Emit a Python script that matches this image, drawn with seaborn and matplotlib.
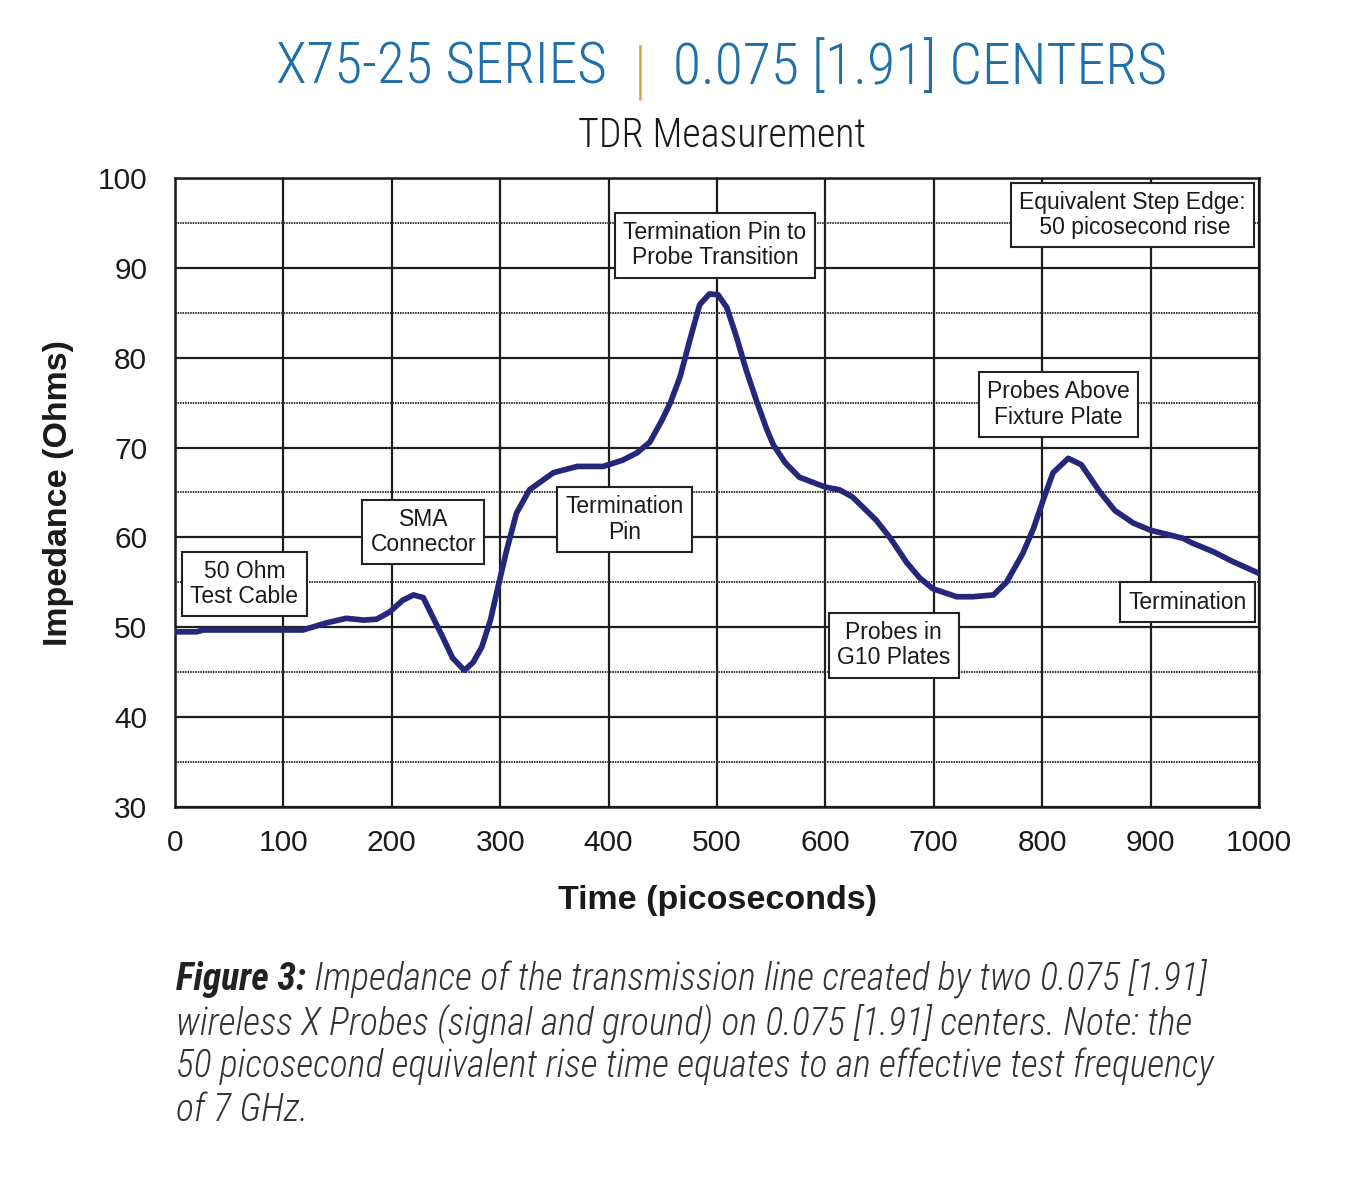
import numpy as np
import pandas as pd
import matplotlib
matplotlib.use("Agg")
import matplotlib.pyplot as plt
from matplotlib import font_manager
import seaborn as sns

# ---------------- data ----------------
time_ps = [0, 20, 26, 118, 140, 158, 174, 186, 198, 210, 220, 229, 238, 247, 256,
           267, 275, 283, 291, 298, 306, 315, 327, 349, 371, 395, 413, 426, 438,
           449, 457, 466, 475, 484, 493, 501, 509, 518, 527, 537, 546, 552, 563,
           576, 600, 613, 625, 647, 660, 675, 687, 699, 721, 736, 755, 767, 782,
           792, 801, 810, 824, 836, 853, 867, 884, 900, 930, 938, 958, 976, 989, 1000]
impedance = [49.5, 49.5, 49.7, 49.7, 50.5, 51.0, 50.8, 50.9, 51.7, 53.0, 53.6, 53.3, 51.1, 48.9, 46.6,
             45.2, 46.1, 47.8, 50.8, 54.5, 58.6, 62.7, 65.3, 67.2, 67.9, 67.9, 68.6, 69.4, 70.6,
             73.0, 75.0, 77.9, 82.0, 85.9, 87.1, 87.0, 85.6, 82.3, 78.6, 75.0, 72.0, 70.3, 68.3,
             66.7, 65.6, 65.3, 64.5, 61.9, 59.9, 57.2, 55.5, 54.3, 53.4, 53.4, 53.6, 55.0, 58.2,
             61.0, 64.2, 67.2, 68.8, 68.1, 65.1, 63.0, 61.6, 60.8, 59.9, 59.4, 58.4, 57.3, 56.6, 56.0]

x_ticks = [0, 100, 200, 300, 400, 500, 600, 700, 800, 900, 1000]
y_ticks = [30, 40, 50, 60, 70, 80, 90, 100]

note_texts = ["50 Ohm\nTest Cable", "SMA\nConnector", "Termination\nPin",
              "Termination Pin to\nProbe Transition", "Equivalent Step Edge:\n 50 picosecond rise",
              "Probes Above\nFixture Plate", "Probes in\nG10 Plates", "Termination"]
note_x = [64, 229, 415, 498, 883, 815, 663, 934]
note_y = [54.8, 60.6, 62.0, 92.5, 95.9, 74.8, 48.0, 52.8]

title_left = "X75-25 SERIES"
title_right = "0.075 [1.91] CENTERS"
subtitle = "TDR Measurement"
caption_bold = "Figure 3:"
caption_lines = [" Impedance of the transmission line created by two 0.075 [1.91]",
                 "wireless X Probes (signal and ground) on 0.075 [1.91] centers. Note: the",
                 "50 picosecond equivalent rise time equates to an effective test frequency",
                 "of 7 GHz."]

# ---------------- style ----------------
sns.set_theme(style="white")

def has_font(name):
    try:
        font_manager.findfont(name, fallback_to_default=False)
        return True
    except Exception:
        return False

SANS = "Liberation Sans" if has_font("Liberation Sans") else "DejaVu Sans"
NARROW = SANS
for cand in ["Liberation Sans Narrow", "DejaVu Sans Condensed", "Roboto Condensed",
             "Open Sans Condensed", "Noto Sans Condensed"]:
    if has_font(cand):
        NARROW = cand
        break
plt.rcParams["font.family"] = [SANS, "DejaVu Sans"]

W, H = 1348, 1179
fig = plt.figure(figsize=(W / 100, H / 100), dpi=100)
fig.patch.set_facecolor("white")
ax = fig.add_axes([175 / W, 1 - 807 / H, 1084 / W, 629 / H])

df = pd.DataFrame({"Time": time_ps, "Impedance": impedance})

# grid
grid_c = "#1e1e1e"
for v in range(35, 100, 10):
    ax.axhline(v, color="#333333", lw=1.4, ls=(0, (0.8, 0.5)), zorder=1)
ax.set_xlim(0, 1000)
ax.set_ylim(30, 100)
ax.set_xticks(x_ticks)
ax.set_yticks(y_ticks)
ax.grid(True, which="major", color=grid_c, lw=1.6, zorder=1)
ax.set_axisbelow(True)

sns.lineplot(data=df, x="Time", y="Impedance", ax=ax, color="#25287a",
             lw=4.1, sort=True, zorder=5, solid_joinstyle="round", solid_capstyle="round")

for s in ax.spines.values():
    s.set_color("#1a1a1a")
    s.set_linewidth(1.8)
    s.set_visible(True)

ax.tick_params(axis="both", direction="out", length=7, width=1.6, color="#1a1a1a",
               labelsize=21.5, labelcolor="#1a1a1a")
ax.tick_params(axis="y", pad=13)
ax.tick_params(axis="x", pad=9)
ax.set_xlabel("Time (picoseconds)", fontsize=24.5, fontweight="bold", color="#1a1a1a", labelpad=20)
ax.set_ylabel("Impedance (Ohms)", fontsize=24.5, fontweight="bold", color="#1a1a1a")
ax.yaxis.set_label_coords((74 - 175) / 1084, 0.5)

for txt, xv, yv in zip(note_texts, note_x, note_y):
    ax.text(xv, yv, txt, ha="center", va="center", fontsize=16.5, color="#1a1a1a",
            linespacing=1.12, zorder=6,
            bbox=dict(boxstyle="square,pad=0.36", fc="white", ec="#222222", lw=1.5))

# ---------------- titles ----------------
fig.canvas.draw()

def fit_text(x, y, s, target_px, base=30, **kw):
    t = fig.text(x, y, s, fontsize=base, **kw)
    rend = fig.canvas.get_renderer()
    w = t.get_window_extent(renderer=rend).width
    t.set_fontsize(base * target_px / w)
    return t

blue = "#1f6fa8"
ty = 1 - 84 / H
fit_text(607 / W, ty, title_left, 607 - 276, ha="right", va="baseline",
         family=[NARROW, "DejaVu Sans"], color=blue, fontweight="light")
fig.text(640 / W, 1 - 86 / H, "|", ha="center", va="baseline", fontsize=40,
         family=["DejaVu Sans"], color="#d4a84a", fontweight="light")
fit_text(673 / W, ty, title_right, 1168 - 673, ha="left", va="baseline",
         family=[NARROW, "DejaVu Sans"], color=blue, fontweight="light")
fit_text(722 / W, 1 - 147 / H, subtitle, 866 - 578, ha="center", va="baseline",
         family=[NARROW, "DejaVu Sans"], color="#1a1a1a", fontweight="light")

# ---------------- caption ----------------
cap_x = 176 / W
base_ys = [990, 1034, 1078, 1121]
cap_family = [NARROW, "DejaVu Sans"]
probe = fig.text(cap_x, 0, caption_lines[1], fontsize=26, family=cap_family, style="italic",
                 fontweight="light")
pw = probe.get_window_extent(renderer=fig.canvas.get_renderer()).width
probe.remove()
cap_size = 26 * (1192 - 176) / pw

cb = fig.text(cap_x, 1 - base_ys[0] / H, caption_bold, ha="left", va="baseline", fontsize=cap_size,
              family=cap_family, style="italic", fontweight="bold", color="#222222")
bb = cb.get_window_extent(renderer=fig.canvas.get_renderer())
for i, (line, by) in enumerate(zip(caption_lines, base_ys)):
    xx = bb.x1 / W if i == 0 else cap_x
    fig.text(xx, 1 - by / H, line, ha="left", va="baseline", fontsize=cap_size,
             family=cap_family, style="italic", color="#333333", fontweight="light")

fig.savefig("out.png", dpi=100, facecolor="white")
